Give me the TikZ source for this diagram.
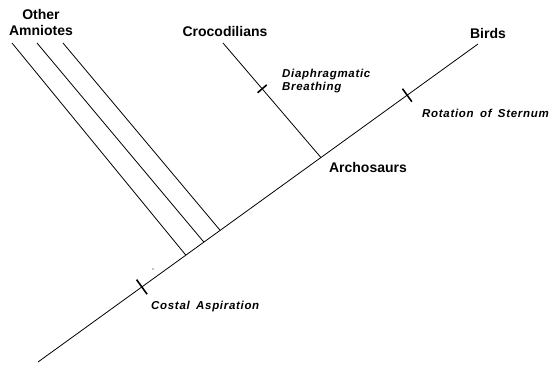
\documentclass[tikz,border=0pt]{standalone}
\usepackage{fontspec}
\setmainfont{Liberation Sans}
\usetikzlibrary{calc}
\tikzset{
  branch/.style={line width=0.8pt},
  tickmark/.style={line width=1.6pt},
  taxon/.style={font=\fontsize{14}{16}\selectfont\bfseries, inner sep=0pt},
  trait/.style={font=\fontsize{11.5}{12.5}\selectfont\bfseries\itshape\addfontfeature{LetterSpace=6}, inner sep=0pt, anchor=west, align=left},
}
\begin{document}
\begin{tikzpicture}[x=1pt,y=-1pt]
\useasboundingbox (0,0) rectangle (550,365);
% main stem
\coordinate (root) at (38,362);
\coordinate (birdtip) at (478,44);
\coordinate (j1) at ($(root)!0.336!(birdtip)$);
\coordinate (j2) at ($(root)!0.377!(birdtip)$);
\coordinate (j3) at ($(root)!0.414!(birdtip)$);
\coordinate (arch) at ($(root)!0.643!(birdtip)$);
\coordinate (o1) at (12,43);
\coordinate (o2) at (37,43);
\coordinate (o3) at (63,43);
\coordinate (croc) at (223,43);
\draw[branch] (root) -- (birdtip);
\draw[branch] (j1) -- (o1);
\draw[branch] (j2) -- (o2);
\draw[branch] (j3) -- (o3);
\draw[branch] (arch) -- (croc);
% ticks
\coordinate (tc) at ($(root)!0.236!(birdtip)$);
\draw[tickmark] ($(tc)!9pt!90:(birdtip)$) -- ($(tc)!9pt!-90:(birdtip)$);
\coordinate (tr) at ($(root)!0.839!(birdtip)$);
\draw[tickmark] ($(tr)!8pt!90:(birdtip)$) -- ($(tr)!8pt!-90:(birdtip)$);
\coordinate (td) at ($(croc)!0.40!(arch)$);
\draw[tickmark] ($(td)!6pt!90:(arch)$) -- ($(td)!6pt!-90:(arch)$);
% stray dot
\fill (153,269) circle (0.6pt);
% labels
\node[taxon, align=center] (lother) at (41,22) {Other\\Amniotes};
\node[taxon] (lcroc) at (225,31) {Crocodilians};
\node[taxon] (lbirds) at (488,33) {Birds};
\node[taxon] (larch) at (368,167) {Archosaurs};
\node[trait] (ldia) at (282,81) {Diaphragmatic\\Breathing};
\node[trait] (lrot) at (422,113) {Rotation\hspace{2.5pt} of\hspace{2.5pt} Sternum};
\node[trait] (lcos) at (151,307) {Costal\hspace{2.5pt} Aspiration};
\end{tikzpicture}
\end{document}
